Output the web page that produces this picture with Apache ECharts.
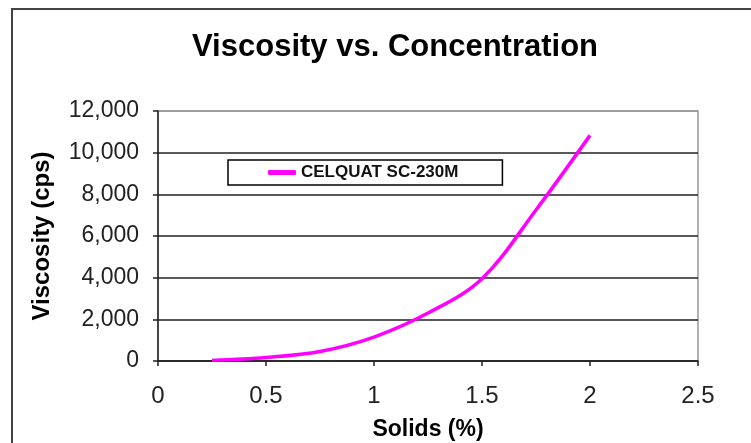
<!DOCTYPE html>
<html>
<head>
<meta charset="utf-8">
<style>
  html, body { margin: 0; padding: 0; background: #fff; }
  #main { width: 751px; height: 443px; }
</style>
<script src="https://cdn.jsdelivr.net/npm/echarts@6/dist/echarts.min.js"></script>
</head>
<body>
<div id="main"></div>
<script>
// data
var solids = [0.25, 0.5, 0.75, 1, 1.25, 1.5, 1.75, 2];
var viscosity = [30, 170, 460, 1150, 2300, 3950, 7250, 10830];
var seriesName = 'CELQUAT SC-230M';

var FONT = '"Liberation Sans", Arial, sans-serif';

var points = solids.map(function (s, i) { return [s, viscosity[i]]; });

var myChart = echarts.init(document.getElementById('main'));
myChart.setOption({
  backgroundColor: '#fff',
  animation: false,
  title: {
    text: 'Viscosity vs. Concentration',
    left: 187,
    top: 27,
    textStyle: { fontFamily: FONT, fontSize: 31, fontWeight: 'bold', color: '#000' }
  },
  legend: {
    left: 228,
    top: 160,
    orient: 'horizontal',
    borderColor: '#000',
    borderWidth: 1.5,
    padding: [4, 44, 4, 40],
    itemWidth: 28,
    itemHeight: 5,
    icon: 'roundRect',
    textStyle: { fontFamily: FONT, fontSize: 17, fontWeight: 'bold', color: '#111' },
    data: [seriesName]
  },
  grid: {
    left: 158, right: 53, top: 111, bottom: 82,
    outerBoundsMode: 'none',
    containLabel: false,
    show: true, borderColor: '#999', borderWidth: 1.5
  },
  xAxis: {
    type: 'value',
    min: 0, max: 2.5, interval: 0.5,
    name: 'Solids (%)',
    nameLocation: 'middle',
    nameGap: 57,
    nameTextStyle: { fontFamily: FONT, fontSize: 23, fontWeight: 'bold', color: '#000' },
    axisLine: { show: true, onZero: false, lineStyle: { color: '#222', width: 1.5 } },
    axisTick: { show: true, inside: false, length: 5, lineStyle: { color: '#222', width: 1.5 } },
    axisLabel: { margin: 23, fontFamily: FONT, fontSize: 24, color: '#222' },
    splitLine: { show: false }
  },
  yAxis: {
    type: 'value',
    min: 0, max: 12000, interval: 2000,
    name: 'Viscosity (cps)',
    nameLocation: 'middle',
    nameGap: 104,
    nameTextStyle: { fontFamily: FONT, fontSize: 24, fontWeight: 'bold', color: '#000' },
    axisLine: { show: true, lineStyle: { color: '#222', width: 1.5 } },
    axisTick: { show: true, inside: false, length: 5, lineStyle: { color: '#222', width: 1.5 } },
    axisLabel: {
      margin: 19, fontFamily: FONT, fontSize: 23, color: '#222',
      formatter: function (v) { return v.toLocaleString('en-US'); }
    },
    splitLine: {
      show: true,
      lineStyle: { color: ['#222', '#222', '#222', '#222', '#222', '#222', '#999'], width: 1.5 }
    }
  },
  series: [{
    name: seriesName,
    type: 'line',
    data: points,
    smooth: 0.35,
    showSymbol: false,
    symbol: 'none',
    color: '#ff00ff',
    lineStyle: { color: '#ff00ff', width: 3.5 }
  }],
  graphic: [{
    type: 'rect',
    shape: { x: 12, y: 9, width: 900, height: 600 },
    style: { fill: 'none', stroke: '#444', lineWidth: 2 },
    silent: true
  }]
});
</script>
</body>
</html>
